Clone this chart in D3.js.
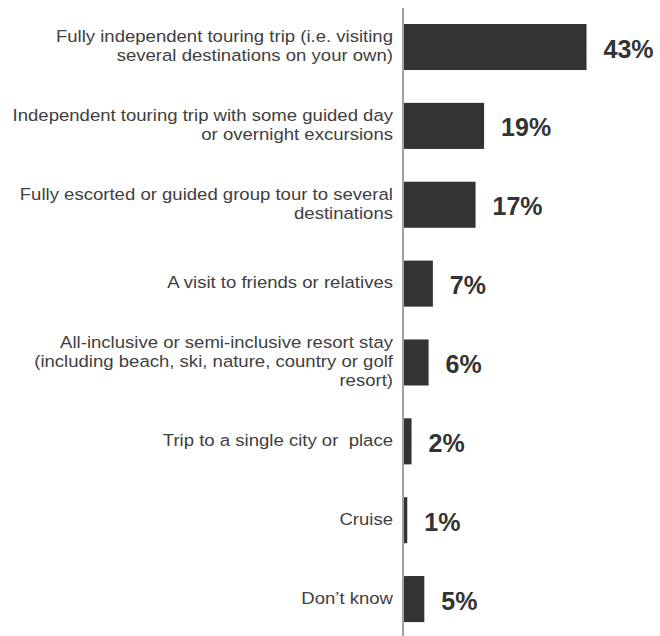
<!DOCTYPE html>
<html>
<head>
<meta charset="utf-8">
<script src="https://cdn.jsdelivr.net/npm/d3@7"></script>
<style>
  html, body { margin: 0; padding: 0; background: #ffffff; }
  svg { display: block; }
</style>
</head>
<body>
<svg id="chart" width="660" height="636"></svg>
<script>
// Trip types (each entry is a list of label lines) and share of respondents (%)
const categories = [
  ["Fully independent touring trip (i.e. visiting", "several destinations on your own)"],
  ["Independent touring trip with some guided day", "or overnight excursions"],
  ["Fully escorted or guided group tour to several", "destinations"],
  ["A visit to friends or relatives"],
  ["All-inclusive or semi-inclusive resort stay", "(including beach, ski, nature, country or golf", "resort)"],
  ["Trip to a single city or  place"],
  ["Cruise"],
  ["Don\u2019t know"]
];
const values = [43, 19, 17, 7, 6, 2, 1, 5];
const valueLabels = ["43%", "19%", "17%", "7%", "6%", "2%", "1%", "5%"];

const rows = categories.map((lines, i) => ({ key: i, lines, value: values[i], label: valueLabels[i] }));

const svg = d3.select("#chart");
const W = 660, H = 636;

const x = d3.scaleLinear().domain([0, 43]).range([403, 586.5]);
const y = d3.scaleBand()
  .domain(rows.map(d => d.key))
  .range([7.6, 638.5])
  .paddingInner(0.416)
  .paddingOuter(0.208);

// Bars
svg.append("g")
  .selectAll("rect")
  .data(rows)
  .join("rect")
  .attr("x", x(0))
  .attr("y", d => y(d.key))
  .attr("width", d => x(d.value) - x(0))
  .attr("height", y.bandwidth())
  .attr("fill", "#333333");

// Vertical baseline axis
svg.append("line")
  .attr("x1", x(0)).attr("x2", x(0))
  .attr("y1", 8).attr("y2", H)
  .attr("stroke", "#a0a0a0")
  .attr("stroke-width", 2);

// Category labels, right-aligned against the axis
const lineGap = 18.6;
const catG = svg.append("g")
  .selectAll("g")
  .data(rows)
  .join("g")
  .attr("transform", d => {
    const c = y(d.key) + y.bandwidth() / 2;
    return `translate(393,${c}) scale(1.125,1)`;
  });

catG.each(function(d) {
  const n = d.lines.length;
  const t = d3.select(this).append("text")
    .attr("text-anchor", "end")
    .attr("font-family", "'Liberation Sans', Arial, sans-serif")
    .attr("font-size", 16.5)
    .attr("fill", "#404040")
    .attr("xml:space", "preserve");
  d.lines.forEach((ln, i) => {
    t.append("tspan")
      .attr("x", 0)
      .attr("y", (i - (n - 1) / 2) * lineGap + 4.5)
      .text(ln);
  });
});

// Value labels
svg.append("g")
  .selectAll("text")
  .data(rows)
  .join("text")
  .attr("x", d => x(d.value) + 17)
  .attr("y", d => y(d.key) + y.bandwidth() / 2 + 10.5)
  .attr("font-family", "'Liberation Sans', Arial, sans-serif")
  .attr("font-weight", "bold")
  .attr("font-size", 25)
  .attr("fill", "#333333")
  .text(d => d.label);
</script>
</body>
</html>
